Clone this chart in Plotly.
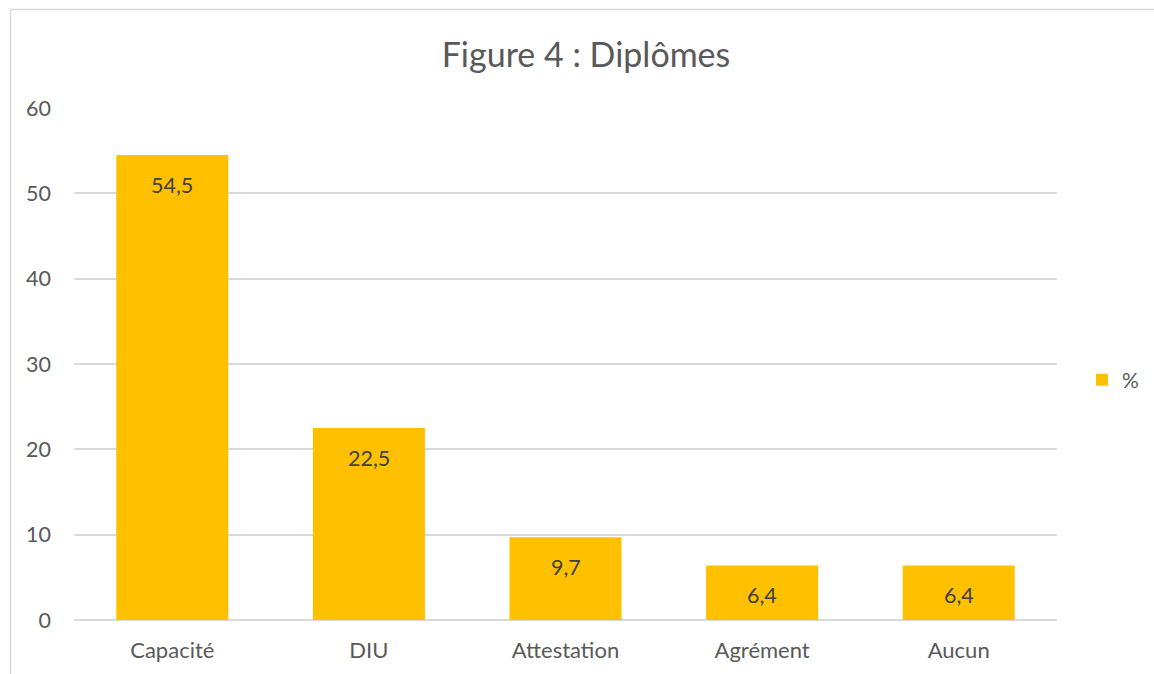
import plotly.graph_objects as go

categories = ["Capacité", "DIU", "Attestation", "Agrément", "Aucun"]
values = [54.5, 22.5, 9.7, 6.4, 6.4]
labels = ["54,5", "22,5", "9,7", "6,4", "6,4"]
y_ticks = [0, 10, 20, 30, 40, 50, 60]

FONT = "Lato, 'Open Sans', sans-serif"
W, H = 1154, 674
L, R, T, B = 74, 97, 108, 54
pw, ph = W - L - R, H - T - B

fig = go.Figure()
fig.add_trace(go.Bar(
    x=categories, y=values, name="%",
    marker=dict(color="#FFC000", line=dict(width=0)),
    hoverinfo="x+y",
))

for c, v, t in zip(categories, values, labels):
    fig.add_annotation(x=c, y=v, text=t, showarrow=False, yshift=-30,
                       font=dict(family=FONT, size=21.5, color="#404040"))

# chart frame (top and left edges visible)
fx0 = (10.5 - L) / pw
fy1 = (H - B - 9.5) / ph
fig.add_shape(type="line", xref="paper", yref="paper", x0=fx0, x1=1.5, y0=fy1, y1=fy1,
              line=dict(color="#D9D9D9", width=1.5))
fig.add_shape(type="line", xref="paper", yref="paper", x0=fx0, x1=fx0, y0=fy1, y1=-0.5,
              line=dict(color="#D9D9D9", width=1.5))

fig.update_layout(
    width=W, height=H,
    margin=dict(l=L, r=R, t=T, b=B, autoexpand=False),
    paper_bgcolor="white", plot_bgcolor="white",
    bargap=0.43,
    title=dict(text="Figure 4 : Diplômes", x=586 / W, xanchor="center",
               y=1 - 55 / H, yanchor="middle",
               font=dict(family=FONT, size=34, color="#595959")),
    font=dict(family=FONT, size=21, color="#595959"),
    showlegend=True,
    legend=dict(xref="container", yref="container", x=1082 / W, y=1 - 380 / H,
                xanchor="left", yanchor="middle",
                font=dict(family=FONT, size=21, color="#595959"),
                itemwidth=30, bgcolor="rgba(0,0,0,0)"),
    xaxis=dict(showline=False, ticks="", showgrid=False, ticklabelstandoff=15,
               tickfont=dict(family=FONT, size=22, color="#595959")),
    yaxis=dict(range=[0, 60], tickvals=y_ticks, showgrid=True, gridcolor="#D9D9D9",
               gridwidth=1.5, zeroline=True, zerolinecolor="#D9D9D9", zerolinewidth=1.5,
               showline=False, ticks="", ticklabelstandoff=22,
               tickfont=dict(family=FONT, size=21.5, color="#595959")),
)

fig.write_html(
    "out.html",
    config={"displayModeBar": False},
    post_script="document.body.style.margin='0';document.body.style.overflow='hidden';",
)
